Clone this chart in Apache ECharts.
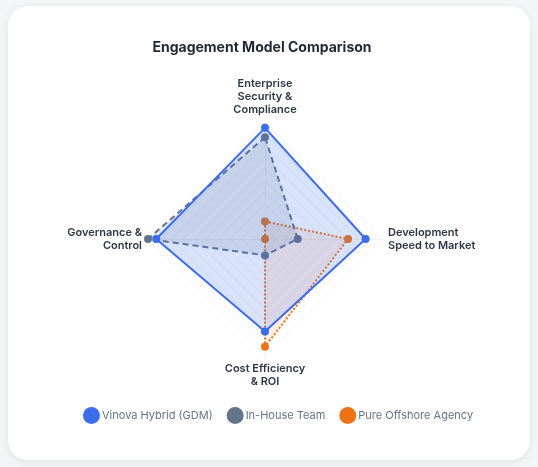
<!DOCTYPE html>
<html>
<head>
<meta charset="utf-8">
<script src="https://cdn.jsdelivr.net/npm/echarts@6/dist/echarts.min.js"></script>
<style>
  html, body { margin: 0; padding: 0; background: #f4f5f7; }
  .card {
    position: absolute; left: 8px; top: 6px; width: 522px; height: 454px;
    background: #fff; border-radius: 20px;
    box-shadow: 0 2px 8px rgba(0,0,0,0.08);
  }
  #main { position: absolute; left: 0; top: 0; width: 538px; height: 467px; }
</style>
</head>
<body>
<div class="card"></div>
<div id="main"></div>
<script>
// axes, in ECharts radar order (top, then counter-clockwise)
const indicators = [
  'Enterprise\nSecurity &\nCompliance',
  'Governance &\nControl',
  'Cost Efficiency\n& ROI',
  'Development\nSpeed to Market'
];
const seriesNames = ['Vinova Hybrid (GDM)', 'In-House Team', 'Pure Offshore Agency'];
const vinova = [9.5, 9.3, 7.9, 8.6];
const inHouse = [8.7, 10, 1.4, 2.8];
const offshore = [1.5, 0, 9.2, 7.1];
const maxValue = 10;

const colors = ['#3d6cea', '#64748b', '#ee7216'];
const fills = ['rgba(61,108,234,0.28)', 'rgba(100,116,139,0.22)', 'rgba(238,114,22,0.16)'];
const lineTypes = ['solid', [6, 4], 'dotted'];
const values = [vinova, inHouse, offshore];

const chart = echarts.init(document.getElementById('main'));

// one series per model so the first one listed is drawn on top
const series = seriesNames.map((name, i) => ({
  type: 'radar',
  name: name,
  z: 10 - i,
  symbol: 'circle',
  symbolSize: 8,
  itemStyle: { color: colors[i] },
  lineStyle: { color: colors[i], width: 2, type: lineTypes[i] },
  areaStyle: { color: fills[i] },
  data: [{ name: name, value: values[i] }]
}));

const option = {
  backgroundColor: 'transparent',
  title: {
    text: 'Engagement Model Comparison',
    left: 257,
    textAlign: 'center',
    top: 36,
    textStyle: { fontFamily: 'Inter', fontSize: 14, fontWeight: 700, color: '#1f2937' }
  },
  legend: {
    data: seriesNames,
    left: 78,
    top: 402,
    icon: 'circle',
    itemWidth: 17,
    itemHeight: 17,
    itemGap: 14,
    textStyle: { fontFamily: 'Inter', fontSize: 11, color: '#64748b', padding: [0, 0, 0, -3] }
  },
  radar: {
    center: [265, 239],
    radius: 117,
    splitNumber: 10,
    indicator: indicators.map(n => ({ name: n, max: maxValue, min: 0 })),
    axisName: {
      fontFamily: 'Inter', fontSize: 11, fontWeight: 600, color: '#2d3748', lineHeight: 13
    },
    nameGap: 6,
    axisLine: { lineStyle: { color: 'rgba(0,0,0,0.05)' } },
    splitLine: { lineStyle: { color: 'rgba(0,0,0,0.05)' } },
    splitArea: { show: false }
  },
  series: series
};

chart.setOption(option);
</script>
</body>
</html>
